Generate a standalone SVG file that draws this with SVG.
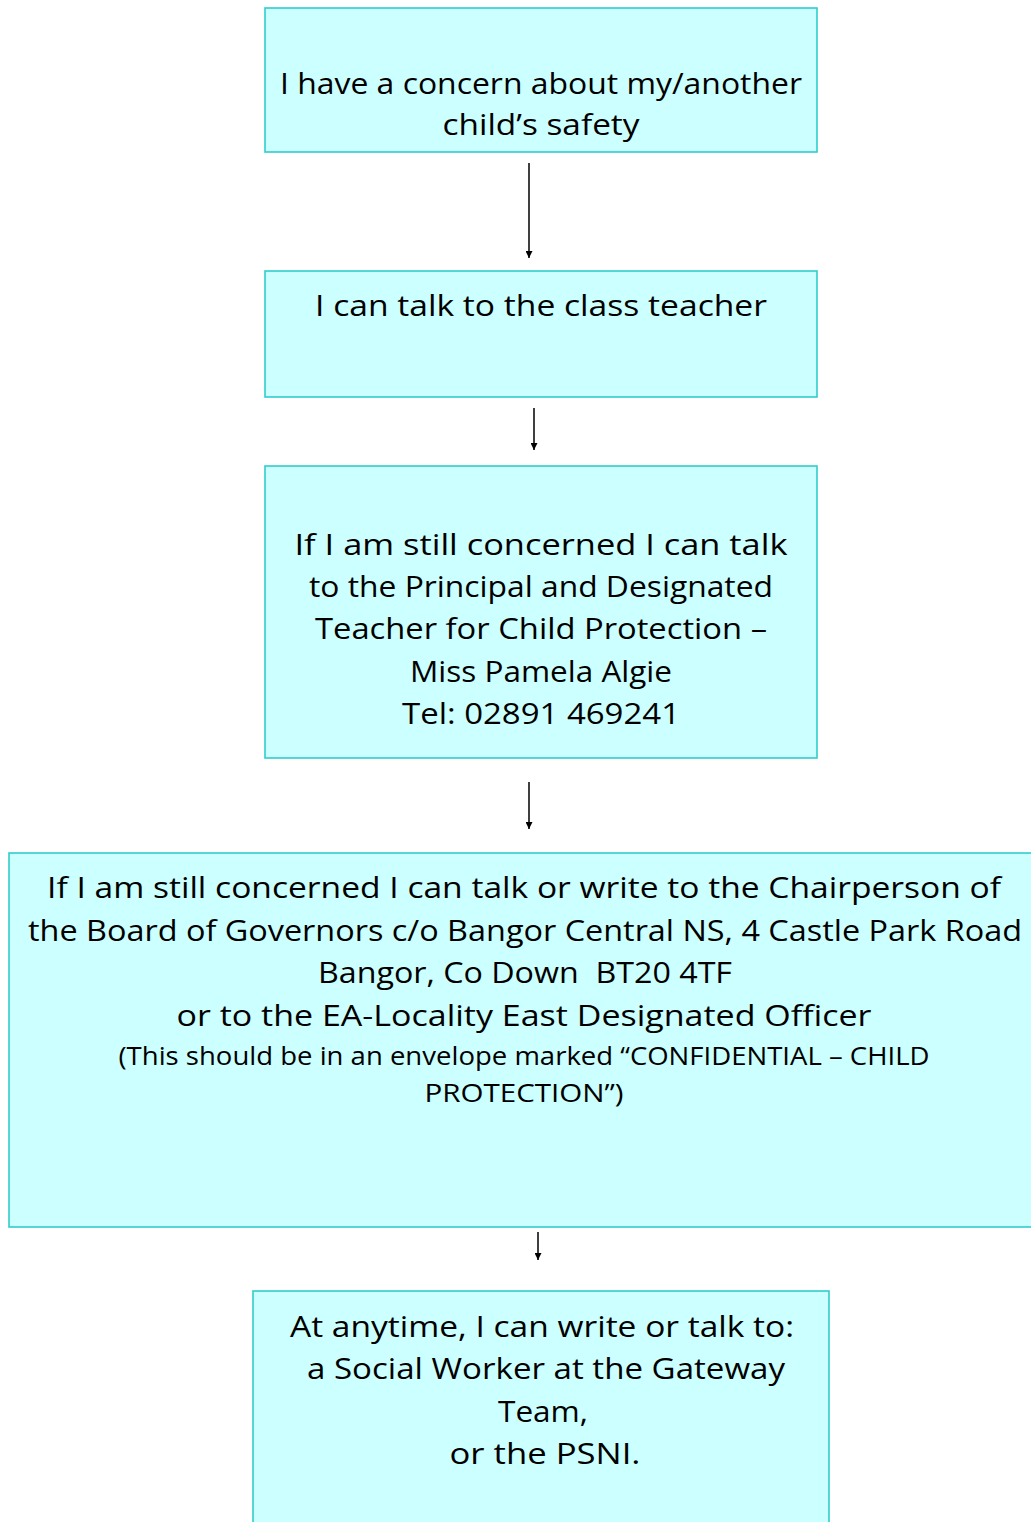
<svg xmlns="http://www.w3.org/2000/svg" width="1031" height="1522" viewBox="0 0 1031 1522">
<style>
.box{fill:#CCFFFF;stroke:#33CCCC;stroke-width:1.6}
.t{font-family:"Open Sans","DejaVu Sans",sans-serif;font-size:30px;fill:#000;text-anchor:middle}
.s{font-family:"Open Sans","DejaVu Sans",sans-serif;font-size:25px;fill:#000;text-anchor:middle}
.c{stroke:#000;stroke-width:1.5;fill:none;marker-end:url(#ah)}
</style>
<defs>
<marker id="ah" viewBox="0 0 10 10" refX="10" refY="5" markerWidth="7" markerHeight="7" markerUnits="userSpaceOnUse" orient="auto">
<path d="M0,0 L10,5 L0,10 Z" fill="#000"/>
</marker>
</defs>
<rect width="1031" height="1522" fill="#fff"/>
<g id="connectors">
<line class="c" x1="529" y1="163" x2="529" y2="258"/>
<line class="c" x1="534" y1="408" x2="534" y2="450"/>
<line class="c" x1="529" y1="782" x2="529" y2="829"/>
<line class="c" x1="538" y1="1232" x2="538" y2="1260"/>
</g>
<g id="n1">
<rect class="box" x="265" y="8" width="552" height="144"/>
<text class="t" x="541" y="94" textLength="522" lengthAdjust="spacingAndGlyphs">I have a concern about my/another</text>
<text class="t" x="541" y="135" textLength="197" lengthAdjust="spacingAndGlyphs">child’s safety</text>
</g>
<g id="n2">
<rect class="box" x="265" y="271" width="552" height="126"/>
<text class="t" x="541" y="316" textLength="452" lengthAdjust="spacingAndGlyphs">I can talk to the class teacher</text>
</g>
<g id="n3">
<rect class="box" x="265" y="466" width="552" height="292"/>
<text class="t" x="541" y="555" textLength="493" lengthAdjust="spacingAndGlyphs">If I am still concerned I can talk</text>
<text class="t" x="541" y="597" textLength="464" lengthAdjust="spacingAndGlyphs">to the Principal and Designated</text>
<text class="t" x="541" y="639" textLength="452" lengthAdjust="spacingAndGlyphs">Teacher for Child Protection –</text>
<text class="t" x="541" y="682" textLength="262" lengthAdjust="spacingAndGlyphs">Miss Pamela Algie</text>
<text class="t" x="541" y="724" textLength="278" lengthAdjust="spacingAndGlyphs">Tel: 02891 469241</text>
</g>
<g id="n4">
<rect class="box" x="9" y="853" width="1030" height="374"/>
<text class="t" x="524" y="898" textLength="954" lengthAdjust="spacingAndGlyphs">If I am still concerned I can talk or write to the Chairperson of</text>
<text class="t" x="525" y="941" textLength="994" lengthAdjust="spacingAndGlyphs">the Board of Governors c/o Bangor Central NS, 4 Castle Park Road</text>
<text class="t" x="525" y="983" textLength="414" lengthAdjust="spacingAndGlyphs" xml:space="preserve">Bangor, Co Down  BT20 4TF</text>
<text class="t" x="524" y="1026" textLength="695" lengthAdjust="spacingAndGlyphs">or to the EA-Locality East Designated Officer</text>
<text class="s" x="524" y="1065" textLength="811" lengthAdjust="spacingAndGlyphs">(This should be in an envelope marked “CONFIDENTIAL – CHILD</text>
<text class="s" x="524" y="1102" textLength="199" lengthAdjust="spacingAndGlyphs">PROTECTION”)</text>
</g>
<g id="n5">
<rect class="box" x="253" y="1291" width="576" height="240"/>
<text class="t" x="542" y="1337" textLength="504" lengthAdjust="spacingAndGlyphs">At anytime, I can write or talk to:</text>
<text class="t" x="546" y="1379" textLength="478" lengthAdjust="spacingAndGlyphs">a Social Worker at the Gateway</text>
<text class="t" x="543" y="1422" textLength="90" lengthAdjust="spacingAndGlyphs">Team,</text>
<text class="t" x="545" y="1464" textLength="191" lengthAdjust="spacingAndGlyphs">or the PSNI.</text>
</g>
</svg>
